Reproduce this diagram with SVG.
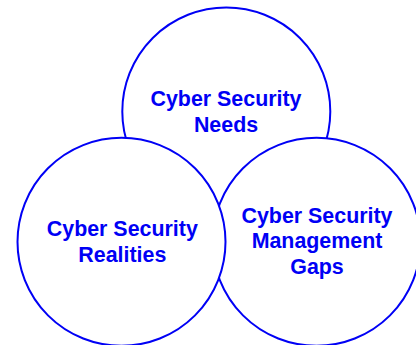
<svg xmlns="http://www.w3.org/2000/svg" width="416" height="345" viewBox="0 0 416 345">
<style>
.c{fill:#ffffff;stroke:#0000f5;stroke-width:2}
.t{font-family:"Liberation Sans",Arial,sans-serif;font-weight:bold;font-size:21.4px;fill:#0000f5;text-anchor:middle}
</style>
<rect width="416" height="345" fill="#ffffff"/>
<g id="connectors"/>
<g id="needs">
<circle class="c" cx="226.3" cy="111.5" r="104"/>
</g>
<g id="gaps">
<circle class="c" cx="316.5" cy="241.8" r="104"/>
</g>
<g id="realities">
<circle class="c" cx="121.5" cy="241.8" r="104"/>
</g>
<g id="labels">
<text class="t" x="226" y="106">Cyber Security</text>
<text class="t" x="226" y="131.7">Needs</text>
<text class="t" x="122.3" y="236">Cyber Security</text>
<text class="t" x="122.3" y="261.7">Realities</text>
<text class="t" x="317" y="222.7">Cyber Security</text>
<text class="t" x="317" y="248.4">Management</text>
<text class="t" x="317" y="274">Gaps</text>
</g>
</svg>
